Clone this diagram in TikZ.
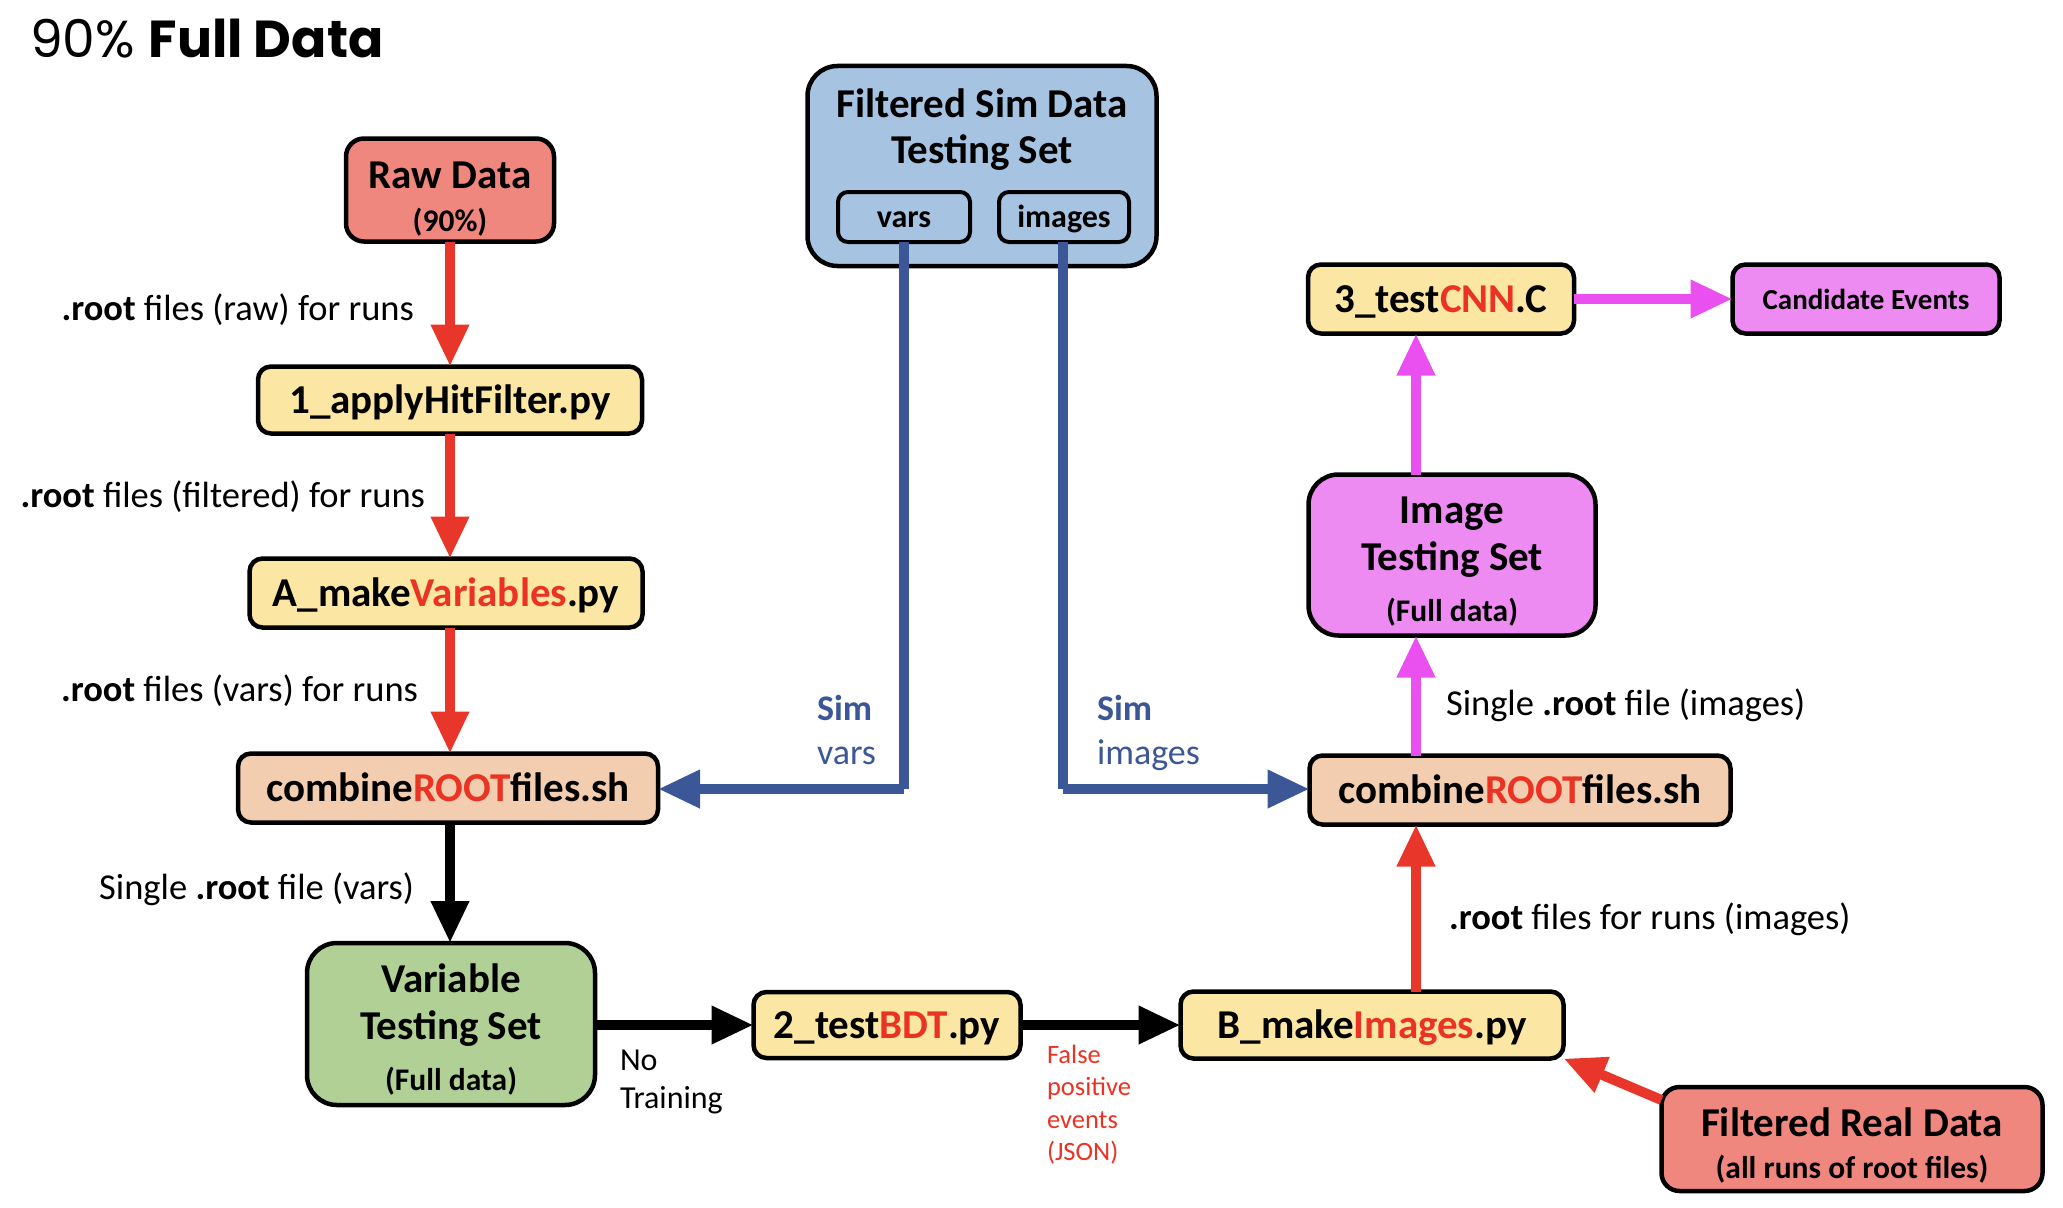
\documentclass[tikz,border=0pt]{standalone}
\usepackage{fontspec}
\setmainfont{Carlito}
\newfontfamily\titlefont{Poppins}
\usetikzlibrary{arrows.meta}
\definecolor{rawfill}{HTML}{F0877F}
\definecolor{yelfill}{HTML}{FCE6A4}
\definecolor{peachfill}{HTML}{F2CDB0}
\definecolor{greenfill}{HTML}{B1D095}
\definecolor{bluefill}{HTML}{A7C3E2}
\definecolor{magfill}{HTML}{EE8BF2}
\definecolor{arrred}{HTML}{E8372A}
\definecolor{arrmag}{HTML}{EA50F0}
\definecolor{arrblue}{HTML}{3B5797}
\definecolor{txtred}{HTML}{EA3323}
\newcommand{\boxfont}{\fontsize{41}{48}\selectfont\bfseries}
\newcommand{\subfont}{\fontsize{31.5}{36}\selectfont\bfseries}
\newcommand{\lblfont}{\fontsize{36.5}{42}\selectfont}
\newcommand{\rd}[1]{\textcolor{txtred}{#1}}
\tikzset{
  every node/.style={inner sep=0pt, outer sep=0pt},
  procbox/.style={draw=black, line width=4.5pt, rounded corners=13pt, font=\boxfont,
    text height=33.6pt, text depth=5.7pt},
  tagbox/.style={draw=black, line width=4pt, rounded corners=10pt, fill=bluefill,
    minimum height=50pt, font=\fontsize{32}{38}\selectfont\bfseries,
    text height=26.2pt, text depth=4.5pt},
  bigbox/.style={draw=black, line width=4.5pt, rounded corners=30pt},
  flow/.style={line width=10pt, -{Triangle[length=42pt,width=36pt]}},
  redflow/.style={flow, draw=arrred, color=arrred},
  magflow/.style={flow, draw=arrmag, color=arrmag},
  blueflow/.style={flow, draw=arrblue, color=arrblue},
  blackflow/.style={flow, draw=black, color=black},
  lbl/.style={font=\lblfont},
}
\begin{document}
\begin{tikzpicture}[x=1pt, y=-1pt]
\useasboundingbox (0,0) rectangle (2063,1207);

% title
\node[anchor=base west] (title) at (30,58) {\titlefont\fontsize{52}{62}\selectfont 90\% \textbf{Full Data}};

% left column
\node[bigbox, fill=rawfill, rounded corners=18pt, minimum width=208pt, minimum height=103pt] (raw) at (450,190) {};
\node[anchor=base, font=\boxfont] (rawt) at (450,188) {Raw Data};
\node[anchor=base, font=\subfont] (rawp) at (450,231) {(90\%)};

\node[procbox, fill=yelfill, minimum width=384pt, minimum height=67pt] (apply) at (450,400) {1\_applyHitFilter.py};
\node[procbox, fill=yelfill, minimum width=393pt, minimum height=69pt] (mkvar) at (446,593) {A\_make\rd{Variables}.py};
\node[procbox, fill=peachfill, minimum width=420pt, minimum height=69pt] (combL) at (448,788) {combine\rd{ROOT}files.sh};

\node[bigbox, fill=greenfill, minimum width=288pt, minimum height=162pt] (varts) at (451,1024) {};
\node[anchor=base, font=\boxfont] (vt1) at (451,992) {Variable};
\node[anchor=base, font=\boxfont] (vt2) at (451,1039) {Testing Set};
\node[anchor=base, font=\subfont] (vt3) at (451,1090) {(Full data)};

% bottom row
\node[procbox, fill=yelfill, minimum width=267pt, minimum height=66pt] (bdt) at (887,1025) {2\_test\rd{BDT}.py};
\node[procbox, fill=yelfill, minimum width=383pt, minimum height=67pt] (bmake) at (1372,1025) {B\_make\rd{Images}.py};

\node[bigbox, fill=rawfill, rounded corners=18pt, minimum width=381pt, minimum height=104pt] (real) at (1852,1139) {};
\node[anchor=base, font=\boxfont] (rl1) at (1852,1136) {Filtered Real Data};
\node[anchor=base, font=\subfont] (rl2) at (1852,1178) {(all runs of root files)};

% right column
\node[procbox, fill=peachfill, minimum width=421pt, minimum height=69pt] (combR) at (1520,790) {combine\rd{ROOT}files.sh};

\node[bigbox, fill=magfill, minimum width=287pt, minimum height=161pt] (imgts) at (1452,555) {};
\node[anchor=base, font=\boxfont] (it1) at (1452,523) {Image};
\node[anchor=base, font=\boxfont] (it2) at (1452,570) {Testing Set};
\node[anchor=base, font=\subfont] (it3) at (1452,621) {(Full data)};

\node[procbox, fill=yelfill, minimum width=266pt, minimum height=69pt] (cnn) at (1441,299) {3\_test\rd{CNN}.C};
\node[draw=black, line width=4.5pt, rounded corners=13pt, fill=magfill, minimum width=267pt, minimum height=69pt, font=\fontsize{29}{34}\selectfont\bfseries] (cand) at (1866,299) {Candidate Events};

% simulation input
\node[bigbox, fill=bluefill, minimum width=349pt, minimum height=200pt] (sim) at (982,166) {};
\node[anchor=base, font=\boxfont] (sm1) at (982,117) {Filtered Sim Data};
\node[anchor=base, font=\boxfont] (sm2) at (982,163) {Testing Set};
\node[tagbox, minimum width=132pt] (svars) at (904,217) {vars};
\node[tagbox, minimum width=130pt] (simgs) at (1064,217) {images};

% routing points
\coordinate (rcol) at (1416,0);
\coordinate (blueL) at (904,789);
\coordinate (blueR) at (1063,789);

% connectors
\draw[redflow] (raw.south) -- (apply.north);
\draw[redflow] (apply.south) -- (mkvar.north -| apply.south);
\draw[redflow] (mkvar.south -| apply.south) -- (combL.north -| apply.south);
\draw[blackflow] (combL.south -| apply.south) -- (varts.north -| apply.south);
\draw[blackflow] (varts.east |- bdt.west) -- (bdt.west);
\draw[blackflow] (bdt.east) -- (bmake.west);
\draw[redflow] (real.north west) ++(0,13) coordinate (realtail) (realtail) -- (bmake.south east);
\draw[redflow] (bmake.north -| rcol) -- (combR.south -| rcol);
\draw[magflow] (combR.north -| rcol) -- (imgts.south -| rcol);
\draw[magflow] (imgts.north -| rcol) -- (cnn.south -| rcol);
\draw[magflow] (cnn.east) -- (cand.west);
\draw[blueflow, -] (svars.south) -- (blueL);
\draw[blueflow] (blueL) -- (combL.east |- blueL);
\draw[blueflow, -] (simgs.south -| blueR) -- (blueR);
\draw[blueflow] (blueR) -- (combR.west |- blueR);

% connector labels
\node[lbl, anchor=base east] (l1) at (414,320) {\textbf{.root} files (raw) for runs};
\node[lbl, anchor=base east] (l2) at (425,507) {\textbf{.root} files (filtered) for runs};
\node[lbl, anchor=base east] (l3) at (418,701) {\textbf{.root} files (vars) for runs};
\node[lbl, anchor=base east] (l4) at (414,899) {Single \textbf{.root} file (vars)};
\node[lbl, anchor=base west] (l5) at (1449,929) {\textbf{.root} files for runs (images)};
\node[lbl, anchor=base west] (l6) at (1446,715) {Single \textbf{.root} file (images)};
\node[anchor=north west, align=left, font=\fontsize{32}{38}\selectfont] (l7) at (620,1050) {No\\Training};
\node[anchor=north west, align=left, text=txtred, font=\fontsize{26.5}{32.5}\selectfont] (l8) at (1047,1045) {False\\positive\\events\\(JSON)};
\node[anchor=north west, align=left, text=arrblue, font=\fontsize{36}{44}\selectfont] (l9) at (817,695) {\textbf{Sim}\\vars};
\node[anchor=north west, align=left, text=arrblue, font=\fontsize{36}{44}\selectfont] (l10) at (1097,695) {\textbf{Sim}\\images};
\end{tikzpicture}
\end{document}
